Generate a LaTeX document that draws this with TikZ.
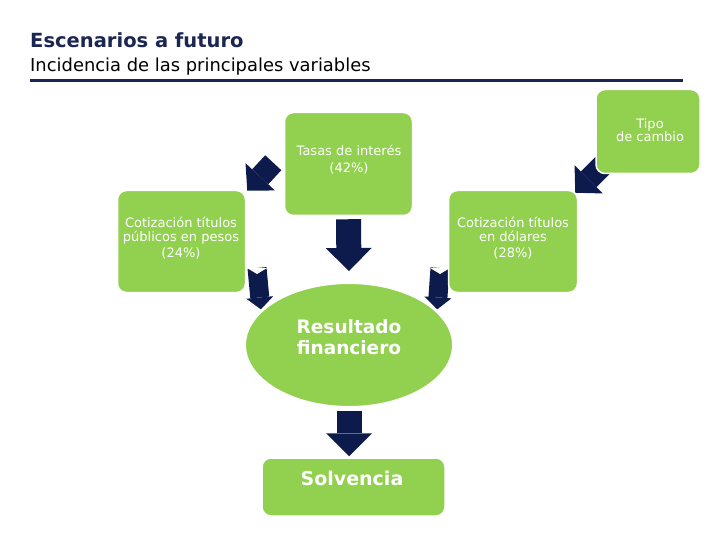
\documentclass[tikz,border=0pt]{standalone}
\usepackage{fontspec}
\setmainfont{DejaVu Sans}
\usetikzlibrary{arrows.meta, shapes.geometric, calc}
\definecolor{boxGreen}{HTML}{92D050}
\definecolor{arrowNavy}{HTML}{0D1B4C}
\definecolor{titleNavy}{HTML}{1C2653}
\pgfdeclarelayer{back}
\pgfsetlayers{back,main}

\begin{document}
\begin{tikzpicture}[x=1pt, y=-1pt,
    greenbox/.style={fill=boxGreen, draw=white, line width=1.5pt, rounded corners=9pt, inner sep=0pt},
    boxtext/.style={text=white, align=center, inner sep=0pt, font=\fontsize{13}{13.5}\selectfont},
    bigtext/.style={text=white, align=center, inner sep=0pt, font=\bfseries\fontsize{18.5}{21}\selectfont},
    bigarrow/.style={arrowNavy, line width=25pt, -{Triangle[width=46pt, length=23pt, line width=0pt]}},
    diagarrow/.style={arrowNavy, line width=22pt, -{Triangle[width=40pt, length=19pt, line width=0pt]}},
    sidearrow/.style={arrowNavy, line width=19pt, -{Triangle[width=27pt, length=12pt, line width=0pt]}}]
    \useasboundingbox (0,0) rectangle (720,540);
    % heading
    \node[anchor=base west, inner sep=0pt, text=titleNavy, font=\bfseries\fontsize{19.5}{22}\selectfont] (title) at (30,48) {Escenarios a futuro};
    \node[anchor=base west, inner sep=0pt, font=\fontsize{17.9}{20}\selectfont] (subtitle) at (30,72) {Incidencia de las principales variables};
    \draw[titleNavy, line width=3pt] (30,81) -- (683,81);
    % boxes
    \node[greenbox, minimum width=104, minimum height=84] (tipo) at (648,131.5) {};
    \node[boxtext] (tipotxt) at (650,130) {Tipo\\de cambio};
    \node[greenbox, minimum width=128, minimum height=103] (tasas) at (348.5,164) {};
    \node[boxtext] (tasastxt) at (349,160) {Tasas de interés\\[3.5pt](42\%)};
    \node[greenbox, minimum width=128, minimum height=102] (pesos) at (181.5,241.5) {};
    \node[boxtext] (pesostxt) at (181,238) {Cotización títulos\\públicos en pesos\\[2.5pt](24\%)};
    \node[greenbox, minimum width=129, minimum height=102] (dolares) at (513,241.5) {};
    \node[boxtext] (dolarestxt) at (513,238) {Cotización títulos\\en dólares\\[2.5pt](28\%)};
    \node[ellipse, fill=boxGreen, draw=white, line width=3pt, inner sep=0pt,
          minimum width=209, minimum height=125] (res) at (349,345) {};
    \node[bigtext] (restxt) at (349,337) {Resultado\\financiero};
    \node[greenbox, minimum width=183, minimum height=58] (solv) at (353.5,487) {};
    \node[bigtext, font=\bfseries\fontsize{19}{21}\selectfont] (solvtxt) at (352,478) {Solvencia};
    % arrows behind the boxes
    \coordinate (n3) at (257,268);
    \coordinate (n4) at (440,268);
    \begin{pgfonlayer}{back}
        \draw[diagarrow] ($(pesos.north east)+(27,-27)$) -- ([shift={(1,1)}]pesos.north east);
        \draw[diagarrow] ($(dolares.north east)+(25,-25)$) -- ([shift={(-3,3)}]dolares.north east);
        \draw[sidearrow] (n3) -- (res.158);
        \draw[sidearrow] (n4) -- (res.22);
        \fill[white] ([xshift=-10pt]n3) -- ([yshift=-6pt]n3) -- ([xshift=10pt]n3) -- cycle;
        \fill[white] ([xshift=-10pt]n4) -- ([yshift=-6pt]n4) -- ([xshift=10pt]n4) -- cycle;
        \draw[bigarrow] ([yshift=-3pt]tasas.south) -- ([yshift=10pt]res.north);
        \draw[bigarrow] ([yshift=-2pt]res.south) -- ([yshift=1pt]res.south |- solv.north);
    \end{pgfonlayer}
\end{tikzpicture}
\end{document}
